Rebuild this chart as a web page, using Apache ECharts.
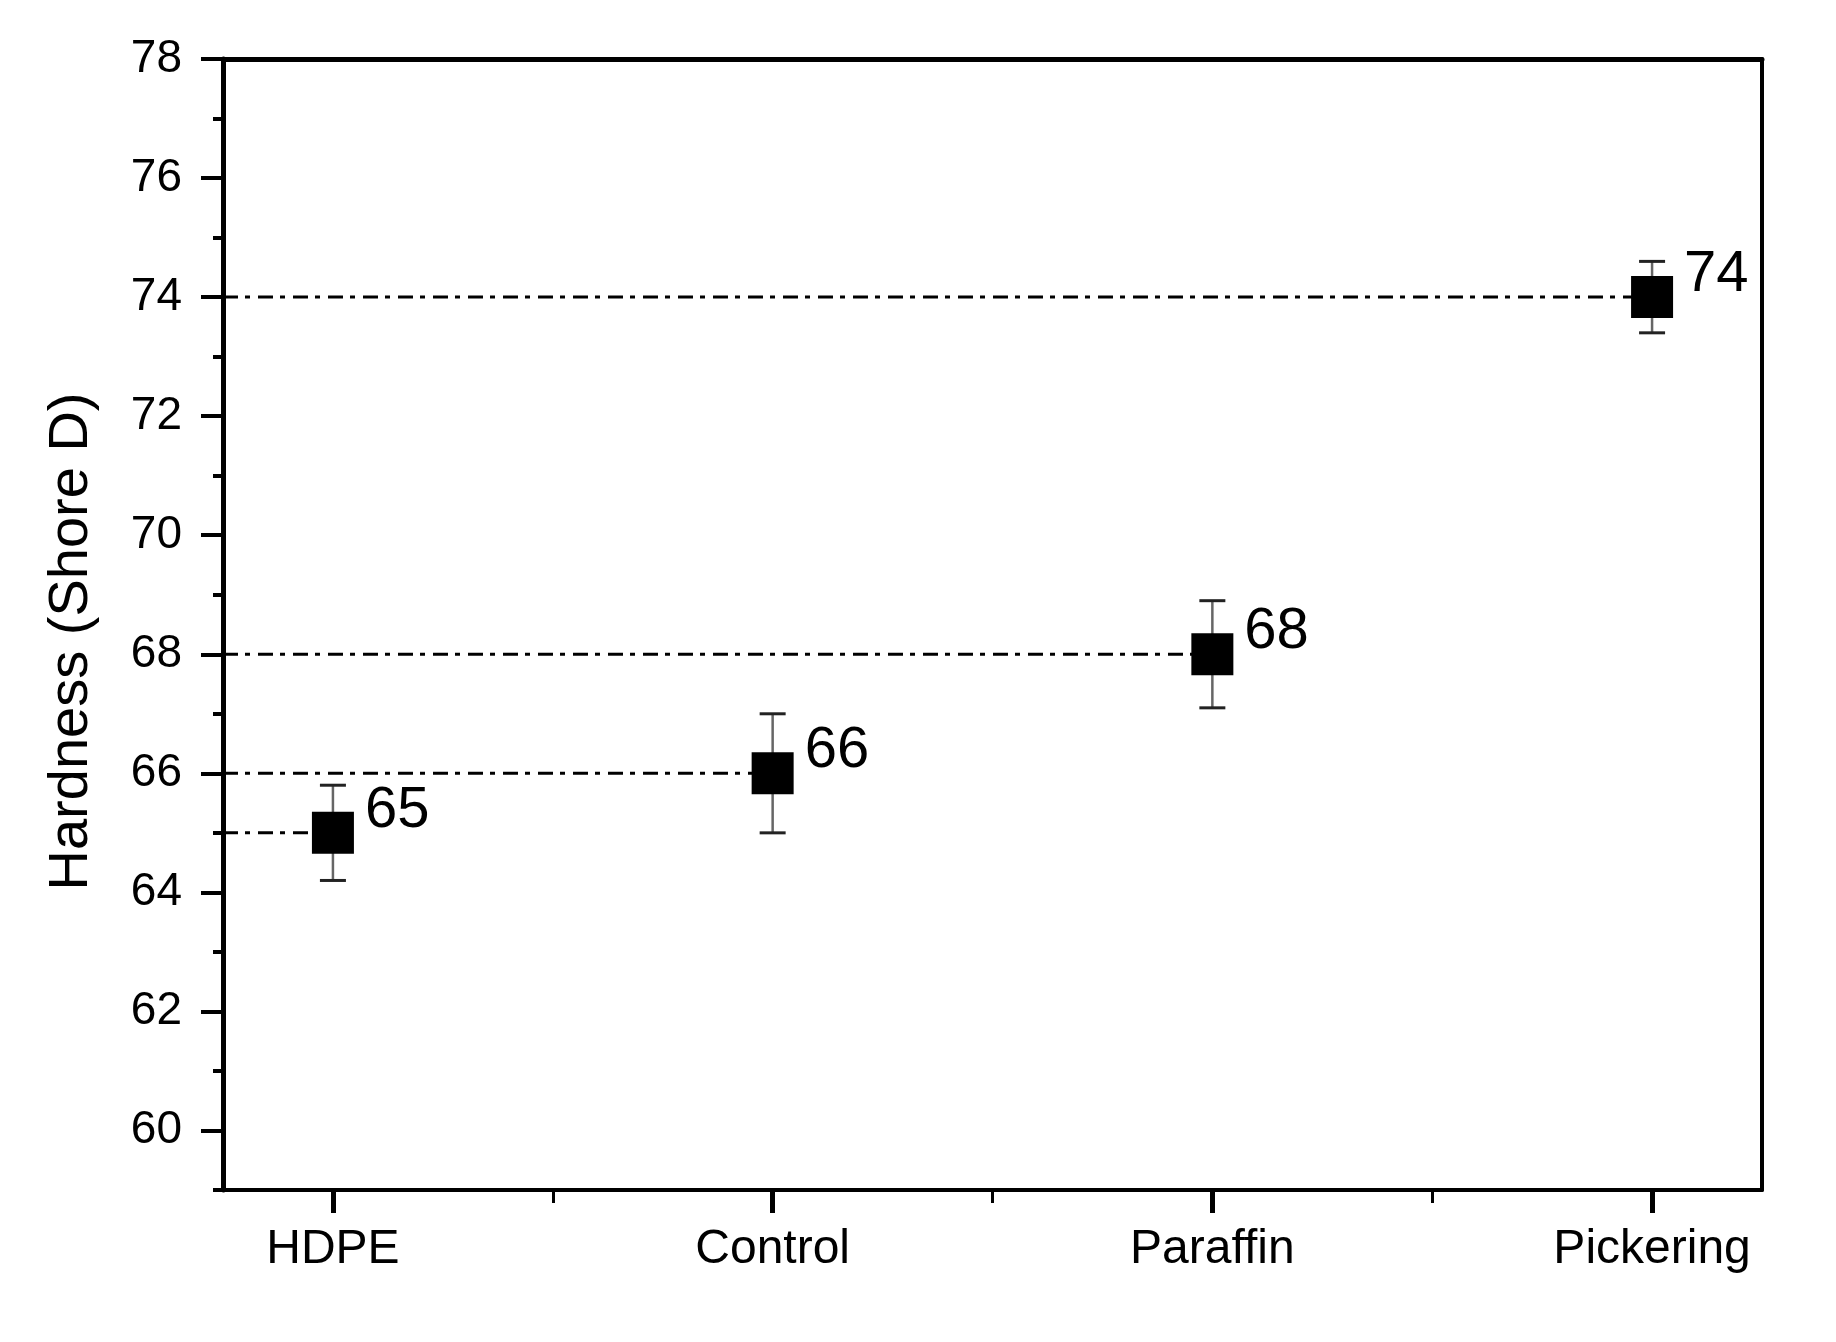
<!DOCTYPE html>
<html><head><meta charset="utf-8">
<script src="https://cdn.jsdelivr.net/npm/echarts@6/dist/echarts.min.js"></script>
<style>html,body{margin:0;padding:0;background:#fff}#c{width:1836px;height:1342px}</style>
</head><body><div id="c"></div>
<script>
const categories = ['HDPE', 'Control', 'Paraffin', 'Pickering'];
const hardness = [65, 66, 68, 74];
const hardnessErr = [0.8, 1.0, 0.9, 0.6];
const yMajorTicks = [60, 62, 64, 66, 68, 70, 72, 74, 76, 78];
const yMinorTicks = [59, 61, 63, 65, 67, 69, 71, 73, 75, 77];
const xMinorTicks = [1.5, 2.5, 3.5];

const X_MIN = 0.75, X_MAX = 4.25, Y_MIN = 59, Y_MAX = 78;
const xPos = categories.map((c, i) => i + 1);
const points = hardness.map((v, i) => [xPos[i], v, hardnessErr[i]]);
const FONT = '"Liberation Sans", Arial, Helvetica, sans-serif';

const chart = echarts.init(document.getElementById('c'));
chart.setOption({
  backgroundColor: '#fff',
  animation: false,
  grid: { left: 223, right: 74, top: 59, bottom: 152 },
  xAxis: [
    {
      type: 'value', min: X_MIN, max: X_MAX, position: 'bottom',
      axisLine: { onZero: false, lineStyle: { color: '#000', width: 4 } },
      axisTick: { customValues: xPos, length: 23, lineStyle: { color: '#000', width: 5 } },
      axisLabel: {
        customValues: xPos, formatter: v => categories[Math.round(v) - 1] || '',
        fontSize: 48, color: '#000', margin: 36, fontFamily: FONT
      },
      splitLine: { show: false }
    },
    {
      type: 'value', min: X_MIN, max: X_MAX, position: 'top',
      axisLine: { onZero: false, lineStyle: { color: '#000', width: 5 } },
      axisTick: { show: false }, axisLabel: { show: false }, splitLine: { show: false }
    },
    {
      type: 'value', min: X_MIN, max: X_MAX, position: 'bottom',
      axisLine: { show: false, onZero: false },
      axisTick: { customValues: xMinorTicks, length: 13, lineStyle: { color: '#000', width: 3 } },
      axisLabel: { show: false }, splitLine: { show: false }
    }
  ],
  yAxis: [
    {
      type: 'value', min: Y_MIN, max: Y_MAX, position: 'left',
      axisLine: { show: true, onZero: false, lineStyle: { color: '#000', width: 5 } },
      axisTick: { show: true, customValues: yMajorTicks, length: 22, lineStyle: { color: '#000', width: 4 } },
      axisLabel: { customValues: yMajorTicks, fontSize: 46, color: '#000', margin: 41, fontFamily: FONT },
      splitLine: { show: false },
      name: 'Hardness (Shore D)', nameLocation: 'middle', nameGap: 123,
      nameTextStyle: { fontSize: 56, color: '#000', fontFamily: FONT, padding: [0, 34, 0, 0] }
    },
    {
      type: 'value', min: Y_MIN, max: Y_MAX, position: 'right',
      axisLine: { show: true, onZero: false, lineStyle: { color: '#000', width: 4 } },
      axisTick: { show: false }, axisLabel: { show: false }, splitLine: { show: false }
    },
    {
      type: 'value', min: Y_MIN, max: Y_MAX, position: 'left',
      axisLine: { show: false, onZero: false },
      axisTick: { show: true, customValues: yMinorTicks, length: 10, lineStyle: { color: '#000', width: 4 } },
      axisLabel: { show: false }, splitLine: { show: false }
    }
  ],
  series: [
    {
      type: 'custom', name: 'guides', xAxisIndex: 0, yAxisIndex: 0, z: 1,
      data: points, encode: { x: 0, y: 1 },
      renderItem: (params, api) => {
        const p0 = api.coord([X_MIN, api.value(1)]);
        const p1 = api.coord([api.value(0), api.value(1)]);
        return {
          type: 'line',
          shape: { x1: p0[0], y1: p0[1], x2: p1[0], y2: p1[1] },
          style: { stroke: '#000', lineWidth: 3, lineDash: [15, 7, 5, 8] }
        };
      }
    },
    {
      type: 'custom', name: 'error', xAxisIndex: 0, yAxisIndex: 0, z: 2,
      data: points, encode: { x: 0, y: 1 },
      renderItem: (params, api) => {
        const x = api.value(0), v = api.value(1), e = api.value(2);
        const top = api.coord([x, v + e]);
        const bot = api.coord([x, v - e]);
        const hw = 13;
        return {
          type: 'group',
          children: [
            { type: 'line', shape: { x1: top[0], y1: top[1], x2: bot[0], y2: bot[1] },
              style: { stroke: '#666', lineWidth: 2.5 } },
            { type: 'line', shape: { x1: top[0] - hw, y1: top[1], x2: top[0] + hw, y2: top[1] },
              style: { stroke: '#222', lineWidth: 3 } },
            { type: 'line', shape: { x1: bot[0] - hw, y1: bot[1], x2: bot[0] + hw, y2: bot[1] },
              style: { stroke: '#222', lineWidth: 3 } }
          ]
        };
      }
    },
    {
      type: 'scatter', name: 'Hardness', xAxisIndex: 0, yAxisIndex: 0, z: 3,
      data: points.map(p => [p[0], p[1]]),
      symbol: 'rect', symbolSize: 42,
      itemStyle: { color: '#000', opacity: 1 },
      label: {
        show: true, position: 'right', distance: 11, offset: [0, -22],
        formatter: p => String(p.value[1]),
        fontSize: 58, color: '#000', opacity: 1, fontFamily: FONT
      }
    }
  ]
});
</script>
</body></html>
